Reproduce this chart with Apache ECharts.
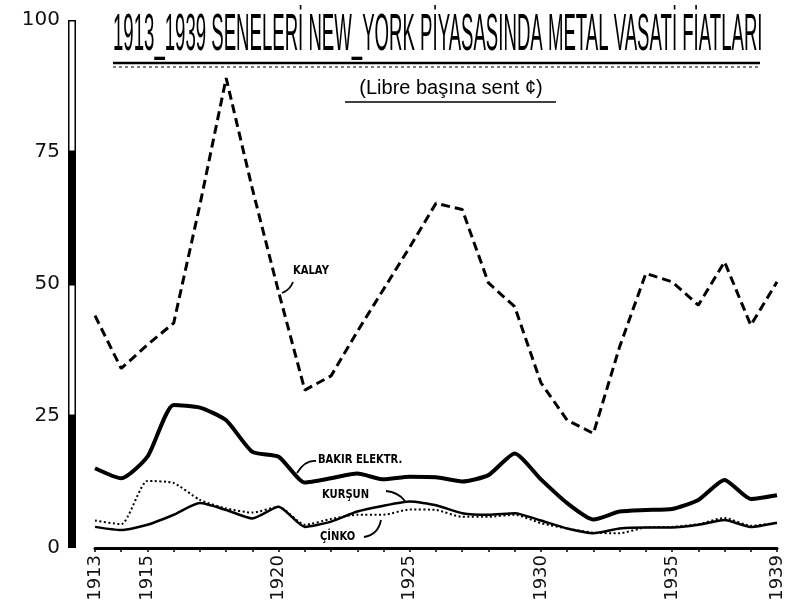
<!DOCTYPE html>
<html>
<head>
    <meta charset="utf-8">
    <title>Metal vasati fiatları</title>
    <script src="https://cdn.jsdelivr.net/npm/echarts@6/dist/echarts.min.js"></script>
</head>
<body style="margin:0;background:#fff;">
<div id="main" style="width: 788px;height:613px;"></div>
<script type="text/javascript">
    // yillar ve seriler (libre basina sent)
    const years = ['1913', '1914', '1915', '1916', '1917', '1918', '1919', '1920', '1921', '1922',
        '1923', '1924', '1925', '1926', '1927', '1928', '1929', '1930', '1931', '1932',
        '1933', '1934', '1935', '1936', '1937', '1938', '1939'];
    const kalay = [44, 34, 38.5, 42.6, 65, 89, 68, 48.5, 29.9, 32.6, 41, 49, 57, 65.3, 64.1, 50.2,
        45.7, 31.3, 24.2, 21.7, 38.1, 52, 50.4, 46, 54.2, 42.2, 50.4];
    const bakir = [15.1, 13.2, 17.3, 27.1, 26.6, 24.2, 18.2, 17.3, 12.4, 13.2, 14.1, 13.0, 13.5, 13.4,
        12.6, 13.8, 17.9, 13.0, 8.5, 5.4, 6.9, 7.2, 7.4, 9.1, 12.9, 9.3, 10.0];
    const kursun = [4.0, 3.4, 4.4, 6.3, 8.5, 7.2, 5.6, 7.8, 4.0, 5.0, 6.9, 8.0, 8.8, 8.1, 6.6, 6.3,
        6.6, 5.2, 3.7, 2.8, 3.7, 3.9, 3.9, 4.4, 5.3, 4.0, 4.8];
    const cinko = [5.2, 4.5, 12.7, 12.3, 9.1, 7.5, 6.7, 7.8, 4.4, 5.5, 6.3, 6.3, 7.3, 7.2, 5.9, 5.9,
        6.3, 4.7, 3.7, 2.9, 2.8, 3.9, 4.0, 4.5, 5.7, 4.2, 4.8];
    const shownYears = ['1913', '1915', '1920', '1925', '1930', '1935', '1939'];
    // soldaki siyah-beyaz olcek cubugu
    const scaleParts = [25, 25, 25, 25];
    const scaleColors = ['#000', '#fff', '#000', '#fff'];

    const myChart = echarts.init(document.getElementById('main'));

    const scaleSeries = scaleParts.map(function (v, i) {
        return {
            type: 'bar',
            xAxisIndex: 1,
            yAxisIndex: 1,
            stack: 'olcek',
            barWidth: '100%',
            data: [v],
            itemStyle: {color: scaleColors[i], borderColor: '#000', borderWidth: 1.5},
            silent: true
        };
    });

    function pointer(x1, y1, cx, cy, x2, y2) {
        return {
            type: 'bezierCurve',
            shape: {x1: x1, y1: y1, cpx1: cx, cpy1: cy, x2: x2, y2: y2},
            style: {stroke: '#000', lineWidth: 1.8, fill: null}
        };
    }

    function label(text, x, y) {
        return {
            type: 'text', x: x, y: y, scaleY: 1.2,
            style: {text: text, fontSize: 10, fontWeight: 'bold', fontFamily: 'DejaVu Sans',
                fill: '#000', verticalAlign: 'middle'}
        };
    }

    const option = {
        animation: false,
        backgroundColor: '#fff',
        grid: [
            {left: 95, right: 11, top: 20, bottom: 65},
            {left: 68, width: 8, top: 20, bottom: 65}
        ],
        xAxis: [{
            type: 'category',
            data: years,
            boundaryGap: false,
            axisLine: {lineStyle: {color: '#000', width: 3}},
            axisTick: {show: true, interval: 0, length: 4, lineStyle: {color: '#000', width: 1.5}},
            axisLabel: {
                interval: function (i, v) { return shownYears.indexOf(v) >= 0; },
                rotate: 90, margin: 7, fontSize: 18, color: '#111', fontFamily: 'DejaVu Sans'
            },
            splitLine: {show: false}
        }, {
            type: 'category', gridIndex: 1, data: ['o'], show: false
        }],
        yAxis: [{
            type: 'value',
            min: 0, max: 100, interval: 25,
            axisLine: {show: false},
            axisTick: {show: false},
            splitLine: {show: false},
            axisLabel: {margin: 35, fontSize: 20, color: '#111', fontFamily: 'DejaVu Sans'}
        }, {
            type: 'value', gridIndex: 1, min: 0, max: 100, show: false
        }],
        graphic: [
            {
                type: 'text', x: 113, y: 10, scaleX: 0.62, scaleY: 1.72,
                style: {text: '1913_1939 SENELERİ NEW_YORK PİYASASINDA METAL VASATİ FİATLARI',
                    fontSize: 30, fontFamily: 'Liberation Sans', fill: '#000', verticalAlign: 'top'}
            },
            {type: 'line', shape: {x1: 113, y1: 63, x2: 760, y2: 63}, style: {stroke: '#000', lineWidth: 2.5}},
            {type: 'line', shape: {x1: 113, y1: 67, x2: 760, y2: 67}, style: {stroke: '#000', lineWidth: 1, lineDash: [3, 3]}},
            {
                type: 'text', x: 451, y: 88,
                style: {text: '(Libre başına sent ¢)', fontSize: 20, fontFamily: 'Liberation Sans',
                    fill: '#000', align: 'center', verticalAlign: 'middle'}
            },
            {type: 'line', shape: {x1: 345, y1: 102, x2: 556, y2: 102}, style: {stroke: '#000', lineWidth: 1.5}},
            label('KALAY', 293, 271),
            pointer(293, 282, 290, 290, 282, 293),
            label('BAKIR ELEKTR.', 318, 460),
            pointer(316, 461, 305, 460, 297, 473),
            label('KURŞUN', 322, 495),
            pointer(386, 491, 398, 492, 405, 501),
            label('ÇİNKO', 320, 537),
            pointer(364, 537, 378, 535, 381, 520)
        ],
        series: [
            {
                name: 'Kalay', type: 'line', data: kalay, showSymbol: false,
                lineStyle: {color: '#000', width: 3, type: [9, 5]}
            },
            {
                name: 'Bakır elektr.', type: 'line', data: bakir, showSymbol: false, smooth: 0.2,
                lineStyle: {color: '#000', width: 4}
            },
            {
                name: 'Kurşun', type: 'line', data: kursun, showSymbol: false, smooth: 0.2,
                lineStyle: {color: '#000', width: 2.5}
            },
            {
                name: 'Çinko', type: 'line', data: cinko, showSymbol: false, smooth: 0.2,
                lineStyle: {color: '#000', width: 2, type: [2, 2.5]}
            }
        ].concat(scaleSeries)
    };

    myChart.setOption(option);
</script>
</body>
</html>
